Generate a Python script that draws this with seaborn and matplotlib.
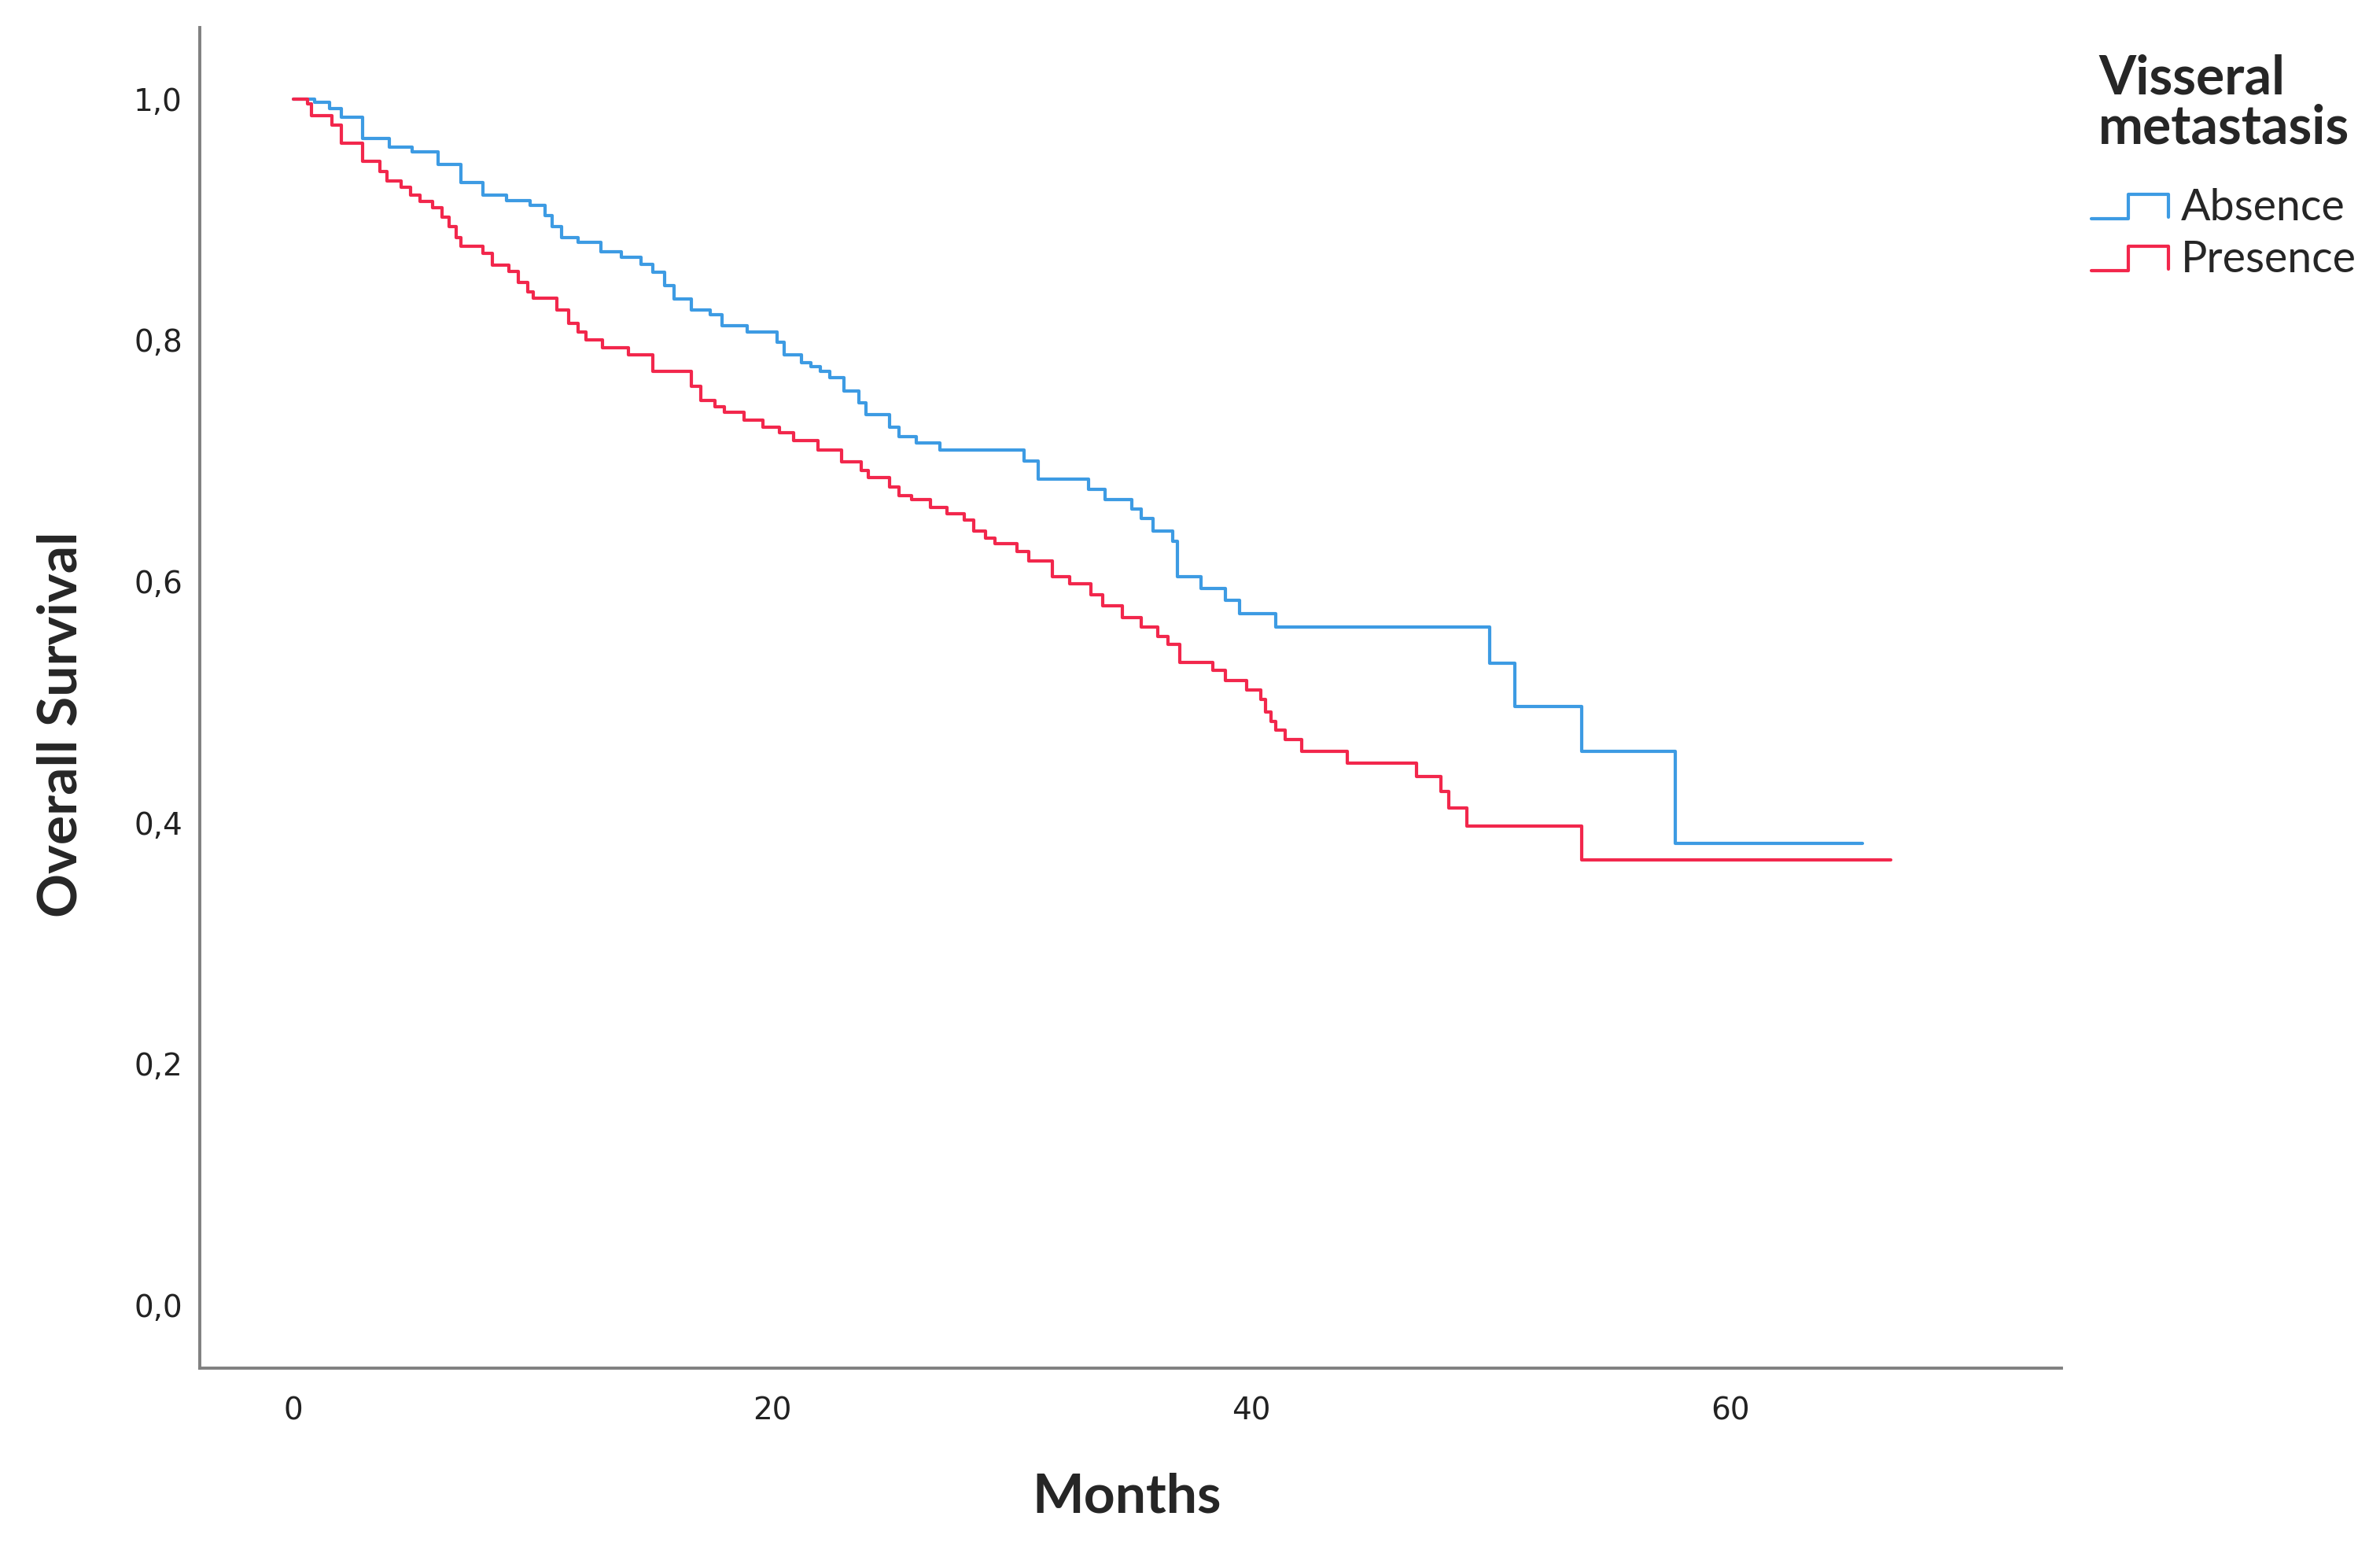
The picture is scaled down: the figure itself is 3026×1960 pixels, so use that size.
import pandas as pd
import matplotlib
matplotlib.use("Agg")
import matplotlib.pyplot as plt
import seaborn as sns
from matplotlib.lines import Line2D
from matplotlib.legend_handler import HandlerBase
from matplotlib.ticker import FuncFormatter

# Kaplan-Meier step values
absence_t = [0, 0.9, 1.5, 2.0, 2.9, 4.0, 4.95, 6.05, 7.0, 7.9, 8.9, 9.9, 10.5, 10.8,
             11.2, 11.9, 12.85, 13.7, 14.5, 15.0, 15.5, 15.9, 16.6, 17.4, 17.9, 18.95,
             20.2, 20.5, 21.2, 21.6, 22.0, 22.4, 23.0, 23.6, 23.9, 24.9, 25.3, 26.0,
             27.0, 30.5, 31.1, 33.2, 33.9, 35.0, 35.4, 35.9, 36.7, 36.9, 37.9, 38.9,
             39.5, 41.0, 49.95, 51.0, 53.8, 57.7]
absence_s = [1.0, 0.997, 0.992, 0.985, 0.967, 0.960, 0.956, 0.946, 0.931, 0.920, 0.916,
             0.912, 0.903, 0.894, 0.885, 0.881, 0.873, 0.869, 0.863, 0.856, 0.845, 0.834,
             0.825, 0.821, 0.812, 0.807, 0.798, 0.788, 0.781, 0.778, 0.774, 0.769, 0.758,
             0.748, 0.738, 0.728, 0.720, 0.715, 0.709, 0.700, 0.685, 0.676, 0.668, 0.660,
             0.652, 0.642, 0.633, 0.604, 0.594, 0.584, 0.573, 0.562, 0.532, 0.496, 0.459,
             0.383]
absence_end = 65.5

presence_t = [0, 0.6, 0.75, 1.6, 2.0, 2.9, 3.6, 3.9, 4.5, 4.9, 5.3, 5.8, 6.2, 6.5, 6.8,
              7.0, 7.9, 8.3, 9.0, 9.4, 9.8, 10.0, 11.0, 11.5, 11.9, 12.2, 12.9, 14.0,
              15.0, 16.6, 17.0, 17.6, 18.0, 18.8, 19.6, 20.3, 20.9, 21.9, 22.9, 23.7,
              24.0, 24.9, 25.3, 25.8, 26.6, 27.3, 28.0, 28.4, 28.9, 29.3, 30.2, 30.7,
              31.7, 32.4, 33.3, 33.8, 34.6, 35.4, 36.1, 36.5, 37.0, 38.4, 38.9, 39.8,
              40.4, 40.6, 40.8, 41.0, 41.4, 42.1, 44.0, 46.9, 47.9, 48.25, 49.0, 53.8]
presence_s = [1.0, 0.996, 0.986, 0.978, 0.963, 0.948, 0.940, 0.932, 0.927, 0.920, 0.915,
              0.910, 0.902, 0.894, 0.885, 0.878, 0.872, 0.862, 0.857, 0.848, 0.840, 0.835,
              0.825, 0.814, 0.807, 0.800, 0.794, 0.788, 0.774, 0.762, 0.750, 0.745, 0.740,
              0.734, 0.728, 0.723, 0.717, 0.709, 0.699, 0.692, 0.686, 0.678, 0.671, 0.668,
              0.661, 0.656, 0.651, 0.642, 0.636, 0.631, 0.625, 0.617, 0.604, 0.598, 0.589,
              0.580, 0.570, 0.562, 0.554, 0.548, 0.533, 0.526, 0.518, 0.510, 0.502, 0.492,
              0.484, 0.477, 0.469, 0.459, 0.449, 0.438, 0.426, 0.412, 0.397, 0.369]
presence_end = 66.7

groups = ["Absence", "Presence"]
colors = ["#3D9BE3", "#F2274C"]

# Build long-form table (last value carried to the end of follow-up)
df = pd.concat([
    pd.DataFrame({"Months": absence_t + [absence_end],
                  "Survival": absence_s + [absence_s[-1]],
                  "group": groups[0]}),
    pd.DataFrame({"Months": presence_t + [presence_end],
                  "Survival": presence_s + [presence_s[-1]],
                  "group": groups[1]}),
], ignore_index=True)

sns.set_style("white")
plt.rcParams["font.family"] = ["DejaVu Sans"]

fig = plt.figure(figsize=(15.13, 9.8), dpi=200)
ax = fig.add_axes([0.084, 0.113, 0.782, 0.869])

sns.lineplot(data=df, x="Months", y="Survival", hue="group", palette=colors,
             estimator=None, sort=False, drawstyle="steps-post", linewidth=1.5,
             legend=False, ax=ax)

ax.set_xlim(-3.9, 73.8)
ax.set_ylim(-0.052, 1.059)
ax.set_xticks([0, 20, 40, 60])
ax.set_yticks([0, 0.2, 0.4, 0.6, 0.8, 1.0])
ax.yaxis.set_major_formatter(FuncFormatter(lambda v, p: f"{v:.1f}".replace(".", ",")))
ax.tick_params(axis="both", length=0, labelsize=14, colors="#222222")
ax.tick_params(axis="y", pad=8)
ax.tick_params(axis="x", pad=13)

for side in ["top", "right"]:
    ax.spines[side].set_visible(False)
for side in ["left", "bottom"]:
    ax.spines[side].set_color("#808080")
    ax.spines[side].set_linewidth(1.4)

ax.set_xlabel("Months", fontsize=25, fontweight="bold", family="Lato")
ax.set_ylabel("Overall Survival", fontsize=25, fontweight="bold", family="Lato")
ax.xaxis.set_label_coords(0.498, -0.078)
ax.yaxis.set_label_coords(-0.061, 0.48)


# legend handle drawn as a small survival step
class StepHandler(HandlerBase):
    def create_artists(self, legend, orig_handle, xdescent, ydescent,
                       width, height, fontsize, trans):
        x0 = -xdescent
        y0 = -ydescent
        xs = [x0, x0 + 0.48 * width, x0 + 0.48 * width, x0 + width, x0 + width]
        ys = [y0 + 0.05 * height, y0 + 0.05 * height, y0 + 0.85 * height,
              y0 + 0.85 * height, y0 + 0.1 * height]
        line = Line2D(xs, ys, color=orig_handle.get_color(), linewidth=1.5,
                      transform=trans)
        return [line]


handles = [Line2D([], [], color=c) for c in colors]
leg = fig.legend(handles, groups, loc="upper left", bbox_to_anchor=(0.866, 0.985),
                 frameon=False, title="Visseral\nmetastasis",
                 prop={"family": "Lato", "size": 20},
                 handler_map={Line2D: StepHandler()},
                 handlelength=1.75, handletextpad=0.3, labelspacing=0.28,
                 borderpad=0.2)
leg.get_title().set_fontfamily("Lato")
leg.get_title().set_fontsize(24.5)
leg.get_title().set_fontweight("bold")
leg.get_title().set_linespacing(1.0)
# wider gap between the title and the entries
leg._legend_box.sep = 16

plt.savefig("out.png", dpi=200)
